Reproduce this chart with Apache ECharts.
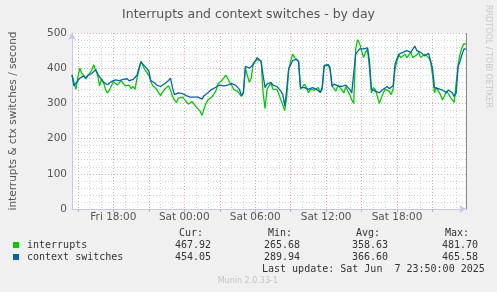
<!DOCTYPE html>
<html><head><meta charset="utf-8">
<script src="https://cdn.jsdelivr.net/npm/echarts@6/dist/echarts.min.js"></script>
<style>html,body{margin:0;padding:0;background:#F0F0F0}#c{width:497px;height:292px}</style>
</head><body><div id="c"></div>
<script>
// time axis in hours since Fri 00:00; samples every 10 minutes from Fri 14:30 to Sat 23:50
const startHour = 14.5;
const stepHours = 1 / 6;
const interrupts = [
  381,360,340,375,400,385,378,370,372,385,395,410,415,380,350,370,360,340,330,338,
  350,362,360,352,355,365,362,350,345,352,342,348,340,372,395,420,415,395,390,380,
  362,350,345,340,330,322,333,340,345,350,338,320,310,302,315,320,318,312,305,298,
  293,305,300,290,285,278,266,285,300,310,312,318,320,335,355,360,365,372,380,372,
  360,352,340,345,335,330,320,330,400,395,360,372,415,418,425,430,420,330,285,340,
  350,358,340,345,340,325,310,295,280,320,395,420,440,430,425,420,340,345,355,345,
  330,340,345,338,335,345,330,340,405,408,410,395,350,345,335,352,345,338,330,348,
  335,325,310,300,455,481,470,450,430,445,455,400,330,345,338,320,300,315,330,340,
  345,335,325,340,400,420,438,430,425,440,430,438,445,430,425,438,445,430,430,440,
  445,430,420,380,330,345,335,325,310,320,335,328,318,310,303,300,410,440,460,470,
  468];
const ctxSwitches = [
  381,350,355,365,372,375,378,372,380,378,385,390,396,385,375,368,360,356,353,358,
  362,366,367,364,365,362,368,372,370,364,362,368,365,380,400,418,418,405,400,392,
  365,360,358,352,350,348,352,356,360,365,372,345,325,330,330,335,328,330,322,325,
  318,322,318,316,318,322,312,322,326,330,335,340,344,346,350,352,353,350,355,352,
  352,356,355,352,350,340,322,330,405,402,400,398,410,415,430,425,420,380,345,355,
  355,360,352,350,348,342,335,325,292,340,400,410,422,420,425,418,345,340,345,350,
  340,342,345,350,340,338,332,345,408,405,410,402,348,355,352,350,355,348,345,352,
  355,340,330,325,440,445,455,458,455,450,458,420,340,338,335,340,330,335,340,345,
  348,342,338,350,412,428,440,435,445,448,450,445,445,440,463,450,448,445,440,435,
  440,442,440,400,345,340,342,340,338,335,330,338,335,330,320,330,405,420,440,455,
  454];
const yTickValues = [0, 100, 200, 300, 400, 500];
const xLabelHours = [18, 24, 30, 36, 42];
const xLabelTexts = ['Fri 18:00', 'Sat 00:00', 'Sat 06:00', 'Sat 12:00', 'Sat 18:00'];
const majorGridHours = [15, 18, 21, 24, 27, 30, 33, 36, 39, 42, 45];
const minorGridHours = [15,16,17,18,19,20,21,22,23,24,25,26,27,28,29,30,31,32,33,34,35,36,37,38,39,40,41,42,43,44,45,46,47];
const endHour = 47 + 50 / 60;
const legendNames = ['interrupts', 'context switches'];
const legendColors = ['#00CC00', '#0066B3'];
const curVals = ['467.92', '454.05'];
const minVals = ['265.68', '289.94'];
const avgVals = ['358.63', '366.60'];
const maxVals = ['481.70', '465.58'];
const lastUpdate = 'Last update: Sat Jun  7 23:50:00 2025';

const toPairs = arr => arr.map((v, i) => [startHour + i * stepHours, v]);

const chart = echarts.init(document.getElementById('c'), null, {renderer: 'canvas'});
const mono = 'DejaVu Sans Mono';
const sans = 'DejaVu Sans';
const txt = (x, y, text, align, color, size, fam) => ({
  type: 'text', x: x, y: y, silent: true,
  style: {text: text, fill: color || '#333', font: (size || 10) + 'px "' + (fam || mono) + '"', align: align || 'left', verticalAlign: 'middle'}
});
const graphics = [];
const headerY = 233, rowY = [245.5, 257.5];
graphics.push(txt(203, headerY, 'Cur:', 'right'));
graphics.push(txt(292, headerY, 'Min:', 'right'));
graphics.push(txt(380, headerY, 'Avg:', 'right'));
graphics.push(txt(469, headerY, 'Max:', 'right'));
legendNames.forEach((n, i) => {
  graphics.push({type: 'rect', shape: {x: 13, y: rowY[i] - 3.5, width: 6, height: 6}, style: {fill: legendColors[i]}, silent: true});
  graphics.push(txt(27, rowY[i], n, 'left'));
  graphics.push(txt(211, rowY[i], curVals[i], 'right'));
  graphics.push(txt(300, rowY[i], minVals[i], 'right'));
  graphics.push(txt(388, rowY[i], avgVals[i], 'right'));
  graphics.push(txt(478, rowY[i], maxVals[i], 'right'));
});
graphics.push(txt(262, 269.5, lastUpdate, 'left'));
graphics.push(txt(278, 280.5, 'Munin 2.0.33-1', 'right', '#c4c4c4', 8, sans));
graphics.push({type: 'text', x: 488.5, y: 5, rotation: -Math.PI / 2, silent: true,
  style: {text: 'RRDTOOL / TOBI OETIKER', fill: '#c8c8c8', font: '8px "DejaVu Sans"', align: 'left', verticalAlign: 'middle'}});

const axisBlue = '#c6c6ee';
chart.setOption({
  backgroundColor: '#F0F0F0',
  animation: false,
  title: {text: 'Interrupts and context switches - by day', left: 'center', top: 3,
    textStyle: {fontFamily: sans, fontSize: 12.5, fontWeight: 'normal', color: '#555'}},
  grid: {left: 66, right: 31, top: 33, bottom: 83, show: true, backgroundColor: '#ffffff', borderWidth: 0},
  xAxis: [{
    type: 'value', min: startHour, max: endHour, position: 'bottom',
    axisLine: {show: false}, axisLabel: {show: false},
    axisTick: {show: false, customValues: minorGridHours},
    splitLine: {show: true, lineStyle: {color: '#d4d4d4', width: 1, type: [1, 2]}}
  }, {
    type: 'value', min: startHour, max: endHour, position: 'bottom',
    axisLine: {show: true, onZero: false, lineStyle: {color: axisBlue, width: 1}, symbol: ['none', 'arrow'], symbolSize: [6, 7]},
    axisTick: {show: true, customValues: majorGridHours, length: 3, lineStyle: {color: '#e8a0a0'}},
    axisLabel: {show: true, customValues: xLabelHours, color: '#555', fontFamily: sans, fontSize: 10.5, margin: 3,
      formatter: v => xLabelTexts[xLabelHours.indexOf(Math.round(v))] || ''},
    splitLine: {show: true, lineStyle: {color: '#e8a8a8', width: 1, type: [1, 2]}}
  }],
  yAxis: {
    type: 'value', min: 0, max: 500, interval: 100, splitNumber: 5,
    name: 'interrupts & ctx switches / second', nameLocation: 'middle', nameGap: 53, nameRotate: 90,
    nameTextStyle: {color: '#555', fontFamily: sans, fontSize: 10.5},
    axisLine: {show: true, lineStyle: {color: axisBlue, width: 1}, symbol: ['none', 'arrow'], symbolSize: [6, 7]},
    axisTick: {show: false},
    axisLabel: {color: '#555', fontFamily: sans, fontSize: 10.5, margin: 5,
      formatter: v => (yTickValues.indexOf(v) >= 0 ? String(v) : '')},
    splitLine: {show: true, lineStyle: {color: '#e8a8a8', width: 1, type: [1, 2]}},
    minorTick: {show: false, splitNumber: 5},
    minorSplitLine: {show: true, lineStyle: {color: '#d4d4d4', width: 1, type: [1, 2]}}
  },
  series: [{
    name: legendNames[0], type: 'line', xAxisIndex: 1, data: toPairs(interrupts), showSymbol: false,
    lineStyle: {color: legendColors[0], width: 1.3}, itemStyle: {color: legendColors[0]}, z: 3,
    markLine: {silent: true, symbol: 'none', label: {show: false},
      lineStyle: {color: '#888', width: 1, type: 'solid'}, data: [{xAxis: endHour}]}
  }, {
    name: legendNames[1], type: 'line', xAxisIndex: 1, data: toPairs(ctxSwitches), showSymbol: false,
    lineStyle: {color: legendColors[1], width: 1.3}, itemStyle: {color: legendColors[1]}, z: 4
  }],
  graphic: graphics
});
</script></body></html>
